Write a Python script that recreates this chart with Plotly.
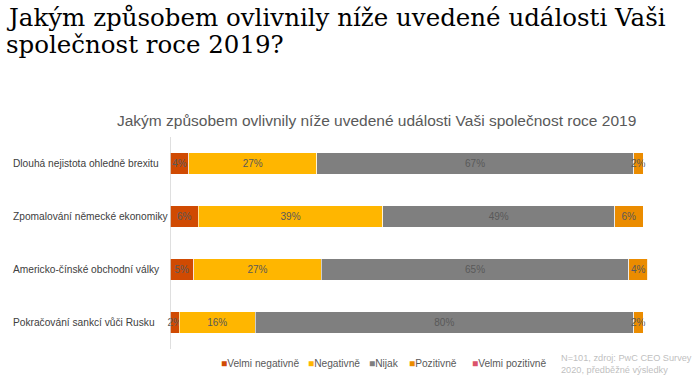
import plotly.graph_objects as go

categories = ["Dlouhá nejistota ohledně brexitu", "Zpomalování německé ekonomiky",
              "Americko-čínské obchodní války", "Pokračování sankcí vůči Rusku"]
series_names = ["Velmi negativně", "Negativně", "Nijak", "Pozitivně", "Velmi pozitivně"]
velmi_negativne = [4, 6, 5, 2]
negativne = [27, 39, 27, 16]
nijak = [67, 49, 65, 80]
pozitivne = [2, 6, 4, 2]
velmi_pozitivne = [0, 0, 0, 0]
colors = ["#D04A02", "#FFB600", "#7F7F7F", "#EB8C00", "#DB536A"]

W, H = 696, 378
L, R, T, B = 170, 44, 137, 29
pw, ph = W - L - R, H - T - B

def px(x):
    return (x - L) / pw

def py(y):
    return 1 - (y - T) / ph

fig = go.Figure()
for name, vals, col in zip(series_names,
                           [velmi_negativne, negativne, nijak, pozitivne, velmi_pozitivne],
                           colors):
    fig.add_trace(go.Bar(
        y=categories, x=vals, name=name, orientation="h",
        marker=dict(color=col, line=dict(color="rgba(255,255,255,0.6)", width=1)),
        width=0.4,
        text=[f"{v}%" if v else "" for v in vals],
        textposition="inside", insidetextanchor="middle", textangle=0,
        constraintext="none", cliponaxis=False,
        textfont=dict(family="Liberation Sans, Arial", size=10, color="#595959"),
        hoverinfo="skip",
    ))

fig.update_layout(
    width=W, height=H, barmode="stack",
    margin=dict(l=L, r=R, t=T, b=B, autoexpand=False),
    paper_bgcolor="white", plot_bgcolor="white",
    uniformtext=dict(mode="show", minsize=10),
    xaxis=dict(range=[0, pw / 4.73], visible=False, fixedrange=True),
    yaxis=dict(autorange="reversed", showticklabels=False, showgrid=False,
               zeroline=False, ticks="", fixedrange=True),
    showlegend=False,
)

# vertical axis line
fig.add_shape(type="line", xref="x", yref="paper", x0=0, x1=0, y0=0, y1=1,
              line=dict(color="#BFBFBF", width=1))

anns = []
# main title (two lines)
for txt, yc in [("Jakým způsobem ovlivnily níže uvedené události Vaši", 18),
                ("společnost roce 2019?", 45)]:
    anns.append(dict(text=txt, xref="paper", yref="paper", x=px(4), y=py(yc),
                     xanchor="left", yanchor="middle", showarrow=False,
                     font=dict(family="DejaVu Serif", size=24.5, color="#000000")))
# chart title
anns.append(dict(text="Jakým způsobem ovlivnily níže uvedené události Vaši společnost roce 2019",
                 xref="paper", yref="paper", x=px(376), y=py(120), xanchor="center", yanchor="middle",
                 showarrow=False,
                 font=dict(family="Liberation Sans, Arial", size=15.5, color="#595959")))
# category labels
for c in categories:
    anns.append(dict(text=c, xref="paper", yref="y", x=px(11), y=c, xanchor="left",
                     yanchor="middle", showarrow=False,
                     font=dict(family="Liberation Sans, Arial", size=10.2, color="#404040")))
# legend (manual, small squares)
legend_x = [219, 306, 367, 407, 470]
for name, col, lx in zip(series_names, colors, legend_x):
    anns.append(dict(text=f"<span style='color:{col}'>■</span>{name}",
                     xref="paper", yref="paper", x=px(lx), y=py(363),
                     xanchor="left", yanchor="middle", showarrow=False,
                     font=dict(family="Liberation Sans, Arial", size=10.2, color="#595959")))
# note
anns.append(dict(text="N=101, zdroj: PwC CEO Survey<br>2020, předběžné výsledky",
                 xref="paper", yref="paper", x=px(559), y=py(364), xanchor="left", yanchor="middle",
                 align="left", showarrow=False,
                 font=dict(family="Liberation Sans, Arial", size=9.2, color="#BFBFBF")))
fig.update_layout(annotations=anns)

fig.write_html("out.html", config={"displayModeBar": False},
               post_script="document.body.style.margin='0';")
